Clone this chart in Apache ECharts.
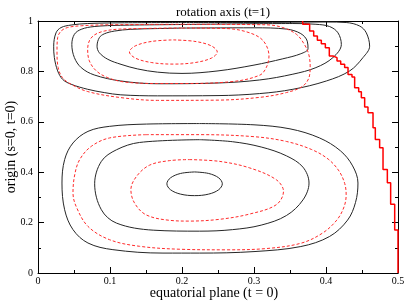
<!DOCTYPE html>
<html>
<head>
<meta charset="utf-8">
<script src="https://cdn.jsdelivr.net/npm/echarts@6/dist/echarts.min.js"></script>
<style>
html,body{margin:0;padding:0;background:#fff;}
#chart{width:407px;height:301px;}
</style>
</head>
<body>
<div id="chart"></div>
<script>
// ---- data ----
const xTickLabels = ['0', '0.1', '0.2', '0.3', '0.4', '0.5'];
const yTickLabels = ['0', '0.2', '0.4', '0.6', '0.8', '1'];

// lower cell, black solid contours
const lowerBlackInner = [[0.2175,0.401],[0.237,0.395],[0.251,0.3775],[0.256,0.354],[0.251,0.3305],[0.237,0.313],[0.2175,0.307],[0.198,0.313],[0.184,0.3305],[0.179,0.354],[0.184,0.3775],[0.198,0.395],[0.2175,0.401]];
const lowerBlackMid = [[0.2245,0.529],[0.27,0.521],[0.31,0.50],[0.345,0.465],[0.368,0.42],[0.3764,0.357],[0.368,0.29],[0.345,0.228],[0.31,0.19],[0.27,0.172],[0.2245,0.166],[0.16,0.170],[0.109,0.198],[0.088,0.251],[0.0787,0.354],[0.088,0.443],[0.109,0.489],[0.141,0.518],[0.2245,0.529]];
const lowerBlackOuter = [[0.2245,0.593],[0.300,0.588],[0.350,0.572],[0.391,0.536],[0.420,0.485],[0.437,0.425],[0.4444,0.357],[0.441,0.280],[0.430,0.210],[0.405,0.145],[0.365,0.105],[0.300,0.085],[0.2245,0.079],[0.1736,0.079],[0.104,0.0926],[0.0694,0.119],[0.0486,0.172],[0.037,0.251],[0.0333,0.357],[0.037,0.45],[0.0486,0.516],[0.0694,0.562],[0.0995,0.582],[0.1505,0.591],[0.2245,0.593]];
// lower cell, red dashed contours
const lowerRedInner = [[0.21,0.450],[0.252,0.443],[0.294,0.417],[0.331,0.370],[0.341,0.324],[0.331,0.271],[0.294,0.234],[0.252,0.213],[0.21,0.206],[0.183,0.209],[0.150,0.231],[0.134,0.278],[0.129,0.331],[0.137,0.384],[0.155,0.428],[0.183,0.446],[0.21,0.450]];
const lowerRedOuter = [[0.15,0.549],[0.2245,0.549],[0.300,0.541],[0.345,0.522],[0.380,0.490],[0.403,0.452],[0.418,0.405],[0.426,0.355],[0.428,0.310],[0.425,0.262],[0.415,0.210],[0.395,0.158],[0.365,0.118],[0.317,0.097],[0.26,0.092],[0.20,0.094],[0.141,0.106],[0.0995,0.132],[0.0694,0.185],[0.053,0.264],[0.0486,0.318],[0.051,0.39],[0.0579,0.45],[0.074,0.5026],[0.0995,0.536],[0.15,0.549]];

// upper cell, black solid contours
const upperBlackInner = [[0.2,0.972],[0.30,0.973],[0.345,0.968],[0.365,0.95],[0.374,0.92],[0.375,0.89],[0.365,0.87],[0.340,0.85],[0.30,0.825],[0.25,0.802],[0.2,0.792],[0.166,0.797],[0.138,0.81],[0.1153,0.828],[0.097,0.848],[0.0852,0.874],[0.082,0.90],[0.0852,0.934],[0.092,0.949],[0.106,0.960],[0.129,0.967],[0.166,0.970],[0.2,0.972]];
const upperBlackMid = [[0.2,0.986],[0.354,0.990],[0.386,0.987],[0.405,0.978],[0.4167,0.953],[0.4213,0.907],[0.4097,0.855],[0.386,0.815],[0.354,0.789],[0.3079,0.766],[0.25,0.754],[0.166,0.751],[0.115,0.762],[0.078,0.786],[0.06,0.815],[0.0505,0.855],[0.047,0.907],[0.0505,0.947],[0.06,0.967],[0.078,0.978],[0.115,0.983],[0.2,0.986]];
const upperBlackOuter = [[0.2,0.994],[0.3,0.994],[0.4005,0.996],[0.428,0.994],[0.4468,0.980],[0.456,0.953],[0.4606,0.90],[0.4514,0.855],[0.4329,0.802],[0.4005,0.762],[0.354,0.729],[0.3079,0.712],[0.25,0.704],[0.166,0.703],[0.115,0.707],[0.092,0.716],[0.069,0.729],[0.046,0.749],[0.0343,0.768],[0.0273,0.802],[0.0227,0.855],[0.0218,0.90],[0.025,0.953],[0.032,0.974],[0.046,0.984],[0.069,0.990],[0.12,0.993],[0.2,0.994]];
// upper cell, red dashed contours
const upperRedInner = [[0.188,0.925],[0.218,0.919],[0.241,0.901],[0.249,0.877],[0.241,0.853],[0.218,0.835],[0.188,0.829],[0.158,0.835],[0.135,0.853],[0.127,0.877],[0.135,0.901],[0.158,0.919],[0.188,0.925]];
const upperRedMid = [[0.2,0.972],[0.262,0.970],[0.294,0.953],[0.313,0.921],[0.3208,0.861],[0.317,0.815],[0.3079,0.785],[0.271,0.760],[0.2,0.752],[0.166,0.752],[0.12,0.758],[0.097,0.775],[0.081,0.802],[0.0713,0.842],[0.069,0.888],[0.0713,0.921],[0.078,0.944],[0.092,0.96],[0.115,0.968],[0.2,0.972]];
const upperRedOuter = [[0.2,0.987],[0.317,0.985],[0.340,0.974],[0.359,0.947],[0.370,0.907],[0.376,0.868],[0.378,0.822],[0.377,0.782],[0.368,0.742],[0.345,0.716],[0.3079,0.697],[0.25,0.686],[0.166,0.685],[0.115,0.696],[0.069,0.72],[0.046,0.749],[0.034,0.775],[0.028,0.815],[0.0264,0.881],[0.0273,0.934],[0.032,0.96],[0.041,0.974],[0.06,0.981],[0.1,0.985],[0.2,0.987]];

// red staircase boundary: vertical runs at stepX[i] from stepY[i] to stepY[i+1]
const stepX = [0.3676,0.3773,0.3829,0.3880,0.3935,0.3991,0.4046,0.4097,0.4153,0.4204,0.4259,0.4306,0.4361,0.4398,0.4454,0.4491,0.4537,0.4583,0.4653,0.4685,0.4745,0.4792,0.4852,0.4898,0.4954,0.5];
const stepY = [1.0,0.987,0.960,0.9405,0.9233,0.910,0.894,0.861,0.8545,0.841,0.828,0.815,0.788,0.778,0.735,0.7196,0.6958,0.6587,0.636,0.5767,0.530,0.497,0.411,0.358,0.2725,0.1706,0];

// ---- chart ----
const stepPts = [];
for (let i = 0; i < stepX.length; i++) {
  stepPts.push([stepX[i], stepY[i]]);
  stepPts.push([stepX[i], stepY[i + 1]]);
}

const FONT = 'Liberation Serif';
const BLACK = '#262626';
const RED = '#ff2a2a';

function contour(pts, dashed) {
  return {
    type: 'line', data: pts, smooth: 0.35, showSymbol: false, symbol: 'none',
    xAxisIndex: 0, yAxisIndex: 0, silent: true, z: 3,
    lineStyle: dashed ? { color: RED, width: 1, type: [3, 2] } : { color: BLACK, width: 1 }
  };
}

const axisLineStyle = { color: '#000', width: 1 };
function xAxisDef(pos, showLabel) {
  return {
    type: 'value', position: pos, min: 0, max: 0.5, interval: 0.1,
    axisLine: { show: true, onZero: false, lineStyle: axisLineStyle },
    axisTick: { show: true, inside: true, length: 6, lineStyle: { color: '#000' } },
    minorTick: { show: true, splitNumber: 2, length: 3, lineStyle: { color: '#000' } },
    splitLine: { show: false }, minorSplitLine: { show: false },
    axisLabel: {
      show: showLabel, margin: 3, color: '#000', fontFamily: FONT, fontSize: 10,
      formatter: v => xTickLabels[Math.round(v / 0.1)]
    },
    name: showLabel ? 'equatorial plane (t = 0)' : '',
    nameLocation: 'middle', nameGap: 13, nameMoveOverlap: false,
    nameTextStyle: { fontFamily: FONT, fontSize: 14, color: '#000', padding: [0, 8, 0, 0] }
  };
}
function yAxisDef(pos, showLabel) {
  return {
    type: 'value', position: pos, min: 0, max: 1, interval: 0.2,
    axisLine: { show: true, onZero: false, lineStyle: axisLineStyle },
    axisTick: { show: true, inside: true, length: 6, lineStyle: { color: '#000' } },
    minorTick: { show: true, splitNumber: 2, length: 3, lineStyle: { color: '#000' } },
    splitLine: { show: false }, minorSplitLine: { show: false },
    axisLabel: {
      show: showLabel, margin: 5, color: '#000', fontFamily: FONT, fontSize: 10,
      formatter: v => yTickLabels[Math.round(v / 0.2)]
    },
    name: showLabel ? 'origin (s=0, t=0)' : '',
    nameLocation: 'middle', nameGap: 20, nameRotate: 90, nameMoveOverlap: false,
    nameTextStyle: { fontFamily: FONT, fontSize: 14, color: '#000' }
  };
}

const chart = echarts.init(document.getElementById('chart'), null, { renderer: 'canvas' });
chart.setOption({
  animation: false,
  backgroundColor: '#fff',
  title: {
    text: 'rotation axis (t=1)', left: 171, top: 1,
    textStyle: { fontFamily: FONT, fontSize: 13, fontWeight: 'normal', color: '#000' }
  },
  grid: { left: 38, right: 9, top: 21, bottom: 28, containLabel: false, outerBoundsMode: 'none' },
  xAxis: [xAxisDef('bottom', true), xAxisDef('top', false)],
  yAxis: [yAxisDef('left', true), yAxisDef('right', false)],
  series: [
    contour(lowerBlackInner, false),
    contour(lowerBlackMid, false),
    contour(lowerBlackOuter, false),
    contour(lowerRedInner, true),
    contour(lowerRedOuter, true),
    contour(upperBlackInner, false),
    contour(upperBlackMid, false),
    contour(upperBlackOuter, false),
    contour(upperRedInner, true),
    contour(upperRedMid, true),
    contour(upperRedOuter, true),
    {
      type: 'line', data: stepPts, showSymbol: false, symbol: 'none', silent: true,
      xAxisIndex: 0, yAxisIndex: 0, z: 5, clip: false,
      lineStyle: { color: '#ff0000', width: 1.5 }
    }
  ]
});
</script>
</body>
</html>
